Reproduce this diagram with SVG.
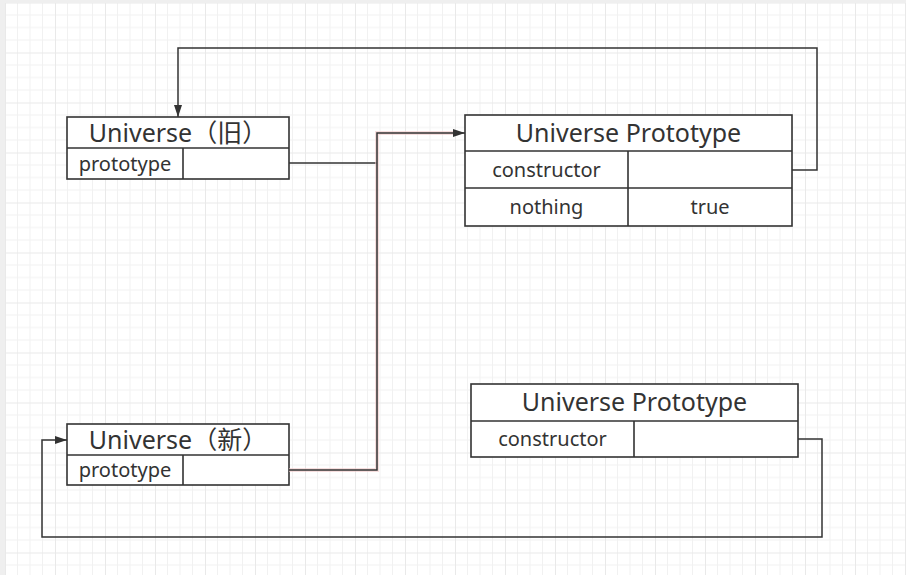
<svg xmlns="http://www.w3.org/2000/svg" width="906" height="575" viewBox="0 0 906 575">
  <defs>
    <pattern id="grid" patternUnits="userSpaceOnUse" x="5" y="2.5" width="50" height="50">
      <path d="M12.5,0V50M25,0V50M37.5,0V50M0,12.5H50M0,25H50M0,37.5H50" stroke="#f1f1f1" stroke-width="1" fill="none"/>
      <path d="M0.5,0V50M0,0.5H50" stroke="#e9e9e9" stroke-width="1" fill="none"/>
    </pattern>
    <marker id="arrow" markerUnits="userSpaceOnUse" markerWidth="12" markerHeight="8" refX="12" refY="4" orient="auto">
      <path d="M0,0L12,4L0,8z" fill="#333"/>
    </marker>
  </defs>
  <style>
    .box { fill: #ffffff; stroke: #333333; stroke-width: 1.6; }
    .div { stroke: #333333; stroke-width: 1.6; fill: none; }
    .hdr { font-family: "Noto Sans", "Noto Sans CJK SC", sans-serif; font-size: 25px; fill: #333333; text-anchor: middle; }
    .cell { font-family: "Noto Sans", "Noto Sans CJK SC", sans-serif; font-size: 20px; fill: #333333; text-anchor: middle; }
    .conn { fill: none; stroke: #333333; stroke-width: 1.5; }
    .halo { fill: none; stroke: #f0c8c8; stroke-width: 4; stroke-opacity: 0.6; }
  </style>
  <rect x="0" y="0" width="906" height="575" fill="#ffffff"/>
  <rect x="5" y="3" width="901" height="572" fill="url(#grid)"/>
  <rect x="0" y="0" width="5" height="575" fill="#efefef"/>
  <rect x="0" y="0" width="906" height="3" fill="#efefef"/>

  <g id="node-universe-old">
    <rect class="box" x="67" y="117" width="222" height="62"/>
    <path class="div" d="M67,148H289M183,148V179"/>
    <text class="hdr" x="178" y="142">Universe（旧）</text>
    <text class="cell" x="125" y="170.5">prototype</text>
  </g>

  <g id="node-prototype-1">
    <rect class="box" x="465" y="115" width="327" height="111"/>
    <path class="div" d="M465,151H792M465,188H792M628,151V226"/>
    <text class="hdr" x="628.5" y="142">Universe Prototype</text>
    <text class="cell" x="546.5" y="176.5">constructor</text>
    <text class="cell" x="546.5" y="214">nothing</text>
    <text class="cell" x="710" y="214">true</text>
  </g>

  <g id="node-universe-new">
    <rect class="box" x="67" y="424" width="222" height="61"/>
    <path class="div" d="M67,455H289M183,455V485"/>
    <text class="hdr" x="178" y="448.5">Universe（新）</text>
    <text class="cell" x="125" y="477">prototype</text>
  </g>

  <g id="node-prototype-2">
    <rect class="box" x="471" y="384" width="327" height="73"/>
    <path class="div" d="M471,421H798M634,421V457"/>
    <text class="hdr" x="634.5" y="411">Universe Prototype</text>
    <text class="cell" x="552.5" y="446">constructor</text>
  </g>

  <g id="connectors">
    <path class="conn" d="M792,170H817V48H178V117" marker-end="url(#arrow)"/>
    <path class="conn" d="M289,163H377"/>
    <path class="halo" d="M289,470H377V133H453"/>
    <path class="conn" d="M289,470H377V133H465" marker-end="url(#arrow)"/>
    <path class="conn" d="M798,439H822V537H42V440H67" marker-end="url(#arrow)"/>
  </g>
</svg>
